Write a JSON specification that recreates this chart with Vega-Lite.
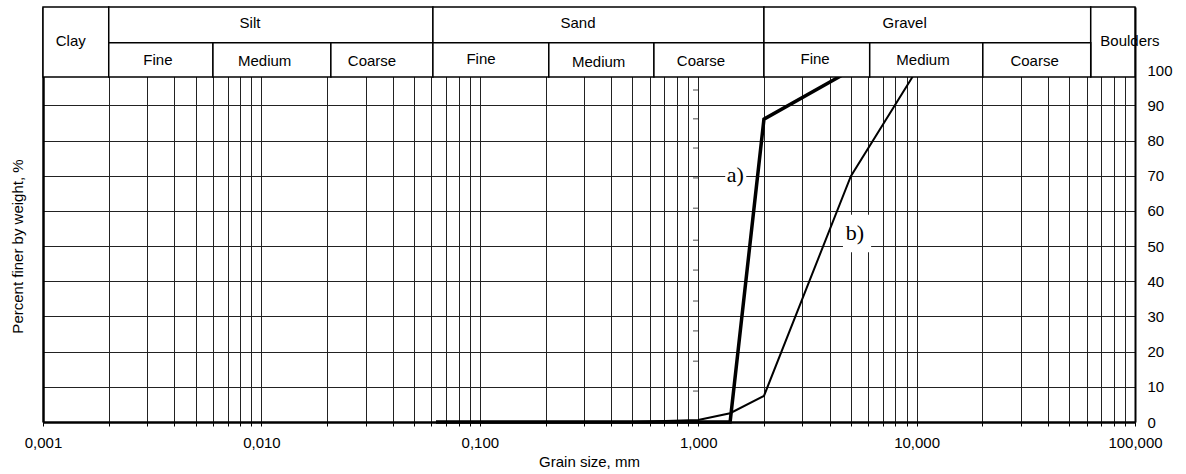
{
  "$schema": "https://vega.github.io/schema/vega-lite/v6.json",
  "width": 1092,
  "height": 415,
  "padding": {"left": 10, "top": 6, "right": 5, "bottom": 5},
  "background": "white",
  "config": {"view": {"stroke": null}, "font": "Liberation Sans"},
  "datasets": {
    "curves": [
      {"series": "a", "size_mm": 0.063, "pct": 0},
      {"series": "a", "size_mm": 0.125, "pct": 0},
      {"series": "a", "size_mm": 0.25, "pct": 0},
      {"series": "a", "size_mm": 0.5, "pct": 0},
      {"series": "a", "size_mm": 1.0, "pct": 0},
      {"series": "a", "size_mm": 1.4, "pct": 0},
      {"series": "a", "size_mm": 2.0, "pct": 86.1},
      {"series": "a", "size_mm": 5.0, "pct": 100},
      {"series": "b", "size_mm": 0.063, "pct": 0},
      {"series": "b", "size_mm": 0.125, "pct": 0},
      {"series": "b", "size_mm": 0.25, "pct": 0},
      {"series": "b", "size_mm": 0.5, "pct": 0},
      {"series": "b", "size_mm": 1.0, "pct": 0.6},
      {"series": "b", "size_mm": 1.4, "pct": 2.5},
      {"series": "b", "size_mm": 2.0, "pct": 7.4},
      {"series": "b", "size_mm": 5.0, "pct": 69.9},
      {"series": "b", "size_mm": 10.0, "pct": 100}
    ],
    "header": [
      {"name": "Clay", "lo": 0.001, "hi": 0.002, "bottom": 98.1, "top": 118},
      {"name": "Silt", "lo": 0.002, "hi": 0.061, "bottom": 107.8, "top": 118},
      {"name": "Sand", "lo": 0.061, "hi": 2.0, "bottom": 107.8, "top": 118},
      {"name": "Gravel", "lo": 2.0, "hi": 62.7, "bottom": 107.8, "top": 118},
      {"name": "Boulders", "lo": 62.7, "hi": 100, "bottom": 98.1, "top": 118},
      {"name": "Silt Fine", "lo": 0.002, "hi": 0.006, "bottom": 98.1, "top": 107.8},
      {"name": "Silt Medium", "lo": 0.006, "hi": 0.0208, "bottom": 98.1, "top": 107.8},
      {"name": "Silt Coarse", "lo": 0.0208, "hi": 0.061, "bottom": 98.1, "top": 107.8},
      {"name": "Sand Fine", "lo": 0.061, "hi": 0.207, "bottom": 98.1, "top": 107.8},
      {"name": "Sand Medium", "lo": 0.207, "hi": 0.627, "bottom": 98.1, "top": 107.8},
      {"name": "Sand Coarse", "lo": 0.627, "hi": 2.0, "bottom": 98.1, "top": 107.8},
      {"name": "Gravel Fine", "lo": 2.0, "hi": 6.1, "bottom": 98.1, "top": 107.8},
      {"name": "Gravel Medium", "lo": 6.1, "hi": 20.1, "bottom": 98.1, "top": 107.8},
      {"name": "Gravel Coarse", "lo": 20.1, "hi": 62.7, "bottom": 98.1, "top": 107.8}
    ],
    "headerText": [
      {"label": "Clay", "x": 0.00134, "y": 108.3},
      {"label": "Silt", "x": 0.00887, "y": 113.4},
      {"label": "Sand", "x": 0.2816, "y": 113.4},
      {"label": "Gravel", "x": 8.82, "y": 113.4},
      {"label": "Boulders", "x": 94.8, "y": 108.3},
      {"label": "Fine", "x": 0.00336, "y": 103.0},
      {"label": "Medium", "x": 0.01035, "y": 102.6},
      {"label": "Coarse", "x": 0.0321, "y": 102.6},
      {"label": "Fine", "x": 0.1013, "y": 103.2},
      {"label": "Medium", "x": 0.350, "y": 102.4},
      {"label": "Coarse", "x": 1.03, "y": 102.6},
      {"label": "Fine", "x": 3.43, "y": 103.2},
      {"label": "Medium", "x": 10.7, "y": 103.0},
      {"label": "Coarse", "x": 34.7, "y": 102.6}
    ],
    "curveLabels": [
      {"label": "a)", "x": 1.48, "y": 70.2},
      {"label": "b)", "x": 5.22, "y": 53.7}
    ],
    "labelBoxes": [
      {"lo": 1.33, "hi": 1.66, "bottom": 66.5, "top": 73.6},
      {"lo": 4.6, "hi": 6.19, "bottom": 48.3, "top": 58.9}
    ],
    "minorTicks": [
      {"size_mm": 0.972, "pct": 8.8},
      {"size_mm": 0.972, "pct": 17.3},
      {"size_mm": 0.972, "pct": 25.9},
      {"size_mm": 0.972, "pct": 34.4},
      {"size_mm": 0.972, "pct": 43.2},
      {"size_mm": 0.972, "pct": 51.7},
      {"size_mm": 0.972, "pct": 60.8},
      {"size_mm": 0.972, "pct": 69.4},
      {"size_mm": 0.972, "pct": 77.9},
      {"size_mm": 0.972, "pct": 86.2},
      {"size_mm": 0.972, "pct": 94.4}
    ]
  },
  "resolve": {"axis": {"y": "independent"}},
  "layer": [
    {
      "data": {"name": "labelBoxes"},
      "mark": {"type": "rect", "fill": "white", "strokeWidth": 0},
      "encoding": {
        "x": {
          "field": "lo", "type": "quantitative",
          "scale": {"type": "log", "domain": [0.001, 100], "nice": false},
          "axis": {
            "orient": "bottom",
            "values": [0.001, 0.002, 0.003, 0.004, 0.005, 0.006, 0.007, 0.008, 0.009,
                       0.01, 0.02, 0.03, 0.04, 0.05, 0.06, 0.07, 0.08, 0.09,
                       0.1, 0.2, 0.3, 0.4, 0.5, 0.6, 0.7, 0.8, 0.9,
                       1, 2, 3, 4, 5, 6, 7, 8, 9,
                       10, 20, 30, 40, 50, 60, 70, 80, 90, 100],
            "labelExpr": "abs(log(datum.value)/LN10 - round(log(datum.value)/LN10)) < 0.000001 ? replace(format(datum.value, '.3f'), '.', ',') : ''",
            "labelOverlap": false,
            "labelFlush": false,
            "labelFont": "Liberation Sans",
            "labelFontSize": 15,
            "labelColor": "black",
            "labelPadding": 9,
            "grid": true,
            "gridColor": "#222",
            "gridWidth": 1,
            "gridOpacity": 1,
            "domainColor": "black",
            "domainWidth": 2.5,
            "tickColor": "black",
            "tickSize": 4,
            "title": "Grain size, mm",
            "titleFont": "Liberation Sans",
            "titleFontSize": 15,
            "titleFontWeight": "normal",
            "titleColor": "black",
            "titlePadding": 4
          }
        },
        "x2": {"field": "hi"},
        "y": {
          "field": "bottom", "type": "quantitative",
          "scale": {"domain": [0, 118], "nice": false, "zero": false},
          "axis": {
            "orient": "left",
            "labels": false,
            "ticks": false,
            "grid": false,
            "domainColor": "black",
            "domainWidth": 2.5,
            "title": "Percent finer by weight, %",
            "titleFont": "Liberation Sans",
            "titleFontSize": 15,
            "titleFontWeight": "normal",
            "titleColor": "black",
            "titlePadding": 18,
            "titleY": 239
          }
        },
        "y2": {"field": "top"}
      }
    },
    {
      "data": {"name": "curves"},
      "mark": {"type": "line", "color": "black", "strokeJoin": "miter"},
      "encoding": {
        "x": {"field": "size_mm", "type": "quantitative", "scale": {"type": "log", "domain": [0.001, 100], "nice": false}},
        "y": {
          "field": "pct", "type": "quantitative",
          "scale": {"domain": [0, 118], "nice": false, "zero": false},
          "axis": {
            "orient": "right",
            "values": [0, 10, 20, 30, 40, 50, 60, 70, 80, 90, 100],
            "grid": true,
            "gridColor": "#222",
            "gridWidth": 1,
            "gridOpacity": 1,
            "tickSize": 0,
            "domainColor": "black",
            "domainWidth": 2,
            "labelFont": "Liberation Sans",
            "labelFontSize": 15,
            "labelColor": "black",
            "labelPadding": 12,
            "title": null
          }
        },
        "strokeWidth": {"field": "series", "type": "nominal", "scale": {"domain": ["a", "b"], "range": [3.5, 2]}, "legend": null}
      }
    },
    {
      "data": {"name": "minorTicks"},
      "mark": {"type": "tick", "orient": "horizontal", "color": "black", "size": 5, "thickness": 1},
      "encoding": {
        "x": {"field": "size_mm", "type": "quantitative", "scale": {"type": "log", "domain": [0.001, 100], "nice": false}},
        "y": {"field": "pct", "type": "quantitative", "scale": {"domain": [0, 118], "nice": false, "zero": false}, "axis": null}
      }
    },
    {
      "data": {"name": "curveLabels"},
      "mark": {"type": "text", "font": "Liberation Serif", "fontSize": 22, "color": "black", "baseline": "middle", "align": "center"},
      "encoding": {
        "x": {"field": "x", "type": "quantitative", "scale": {"type": "log", "domain": [0.001, 100], "nice": false}},
        "y": {"field": "y", "type": "quantitative", "scale": {"domain": [0, 118], "nice": false, "zero": false}, "axis": null},
        "text": {"field": "label"}
      }
    },
    {
      "data": {"name": "header"},
      "mark": {"type": "rect", "fill": "white", "stroke": "black", "strokeWidth": 1.5},
      "encoding": {
        "x": {"field": "lo", "type": "quantitative", "scale": {"type": "log", "domain": [0.001, 100], "nice": false}},
        "x2": {"field": "hi"},
        "y": {"field": "bottom", "type": "quantitative", "scale": {"domain": [0, 118], "nice": false, "zero": false}, "axis": null},
        "y2": {"field": "top"}
      }
    },
    {
      "data": {"name": "headerText"},
      "mark": {"type": "text", "font": "Liberation Sans", "fontSize": 15, "color": "black", "baseline": "middle", "align": "center"},
      "encoding": {
        "x": {"field": "x", "type": "quantitative", "scale": {"type": "log", "domain": [0.001, 100], "nice": false}},
        "y": {"field": "y", "type": "quantitative", "scale": {"domain": [0, 118], "nice": false, "zero": false}, "axis": null},
        "text": {"field": "label"}
      }
    }
  ]
}
